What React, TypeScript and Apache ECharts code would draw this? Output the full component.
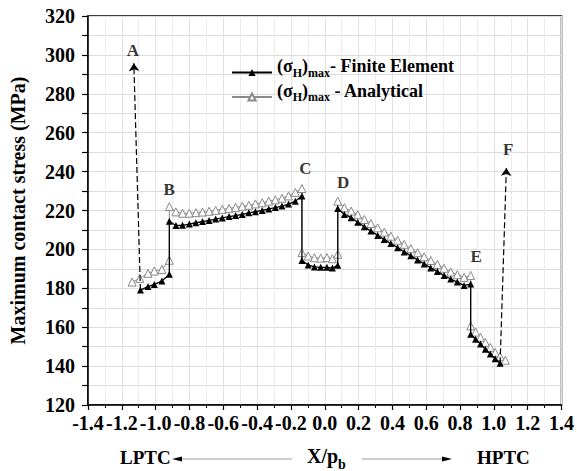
import React, { useEffect, useRef } from 'react';
import * as echarts from 'echarts';

// Finite Element series (x = X/p_b, y = MPa)
const feX = [
  -1.090, -1.045, -1.008, -0.963, -0.919,
  -0.919, -0.880, -0.841, -0.801, -0.762, -0.723, -0.684, -0.645, -0.606, -0.566, -0.527,
  -0.488, -0.449, -0.410, -0.370, -0.331, -0.292, -0.253, -0.214, -0.174, -0.135,
  -0.135, -0.098, -0.061, -0.024, 0.013, 0.045, 0.077,
  0.077, 0.116, 0.156, 0.195, 0.234, 0.273, 0.313, 0.352, 0.391, 0.431, 0.470,
  0.509, 0.549, 0.588, 0.627, 0.666, 0.706, 0.745, 0.784, 0.824, 0.863,
  0.863, 0.892, 0.921, 0.950, 0.979, 1.008, 1.037,
];
const feY = [
  179.1, 180.9, 182.0, 183.7, 187.2,
  214.5, 212.3, 212.4, 213.0, 213.7, 214.3, 214.9, 215.6, 216.2, 216.9, 217.4,
  218.0, 218.8, 219.4, 220.0, 220.8, 221.5, 222.3, 223.3, 224.8, 227.5,
  194.3, 192.0, 191.0, 190.8, 190.8, 190.4, 191.8,
  221.0, 218.0, 216.3, 214.0, 211.6, 209.4, 207.2, 205.1, 203.0, 200.9, 198.7,
  196.7, 194.6, 192.5, 190.5, 188.6, 186.6, 184.8, 183.2, 181.5, 182.2,
  156.4, 153.8, 151.3, 148.7, 146.2, 143.8, 141.5,
];

// Analytical series
const anX = [
  -1.139, -1.094, -1.045, -1.008, -0.963, -0.919,
  -0.919, -0.880, -0.841, -0.801, -0.762, -0.723, -0.684, -0.645, -0.606, -0.566, -0.527,
  -0.488, -0.449, -0.410, -0.370, -0.331, -0.292, -0.253, -0.214, -0.174, -0.135,
  -0.135, -0.098, -0.061, -0.024, 0.013, 0.045, 0.077,
  0.077, 0.116, 0.156, 0.195, 0.234, 0.273, 0.313, 0.352, 0.391, 0.431, 0.470,
  0.509, 0.549, 0.588, 0.627, 0.666, 0.706, 0.745, 0.784, 0.824, 0.863,
  0.863, 0.892, 0.921, 0.950, 0.979, 1.008, 1.037, 1.068,
];
const anY = [
  183.2, 185.1, 187.7, 188.9, 189.7, 194.4,
  222.0, 219.3, 218.6, 218.6, 218.9, 219.2, 219.6, 220.1, 220.6, 221.1, 221.6,
  222.2, 222.7, 223.4, 224.0, 224.8, 225.5, 226.3, 227.5, 229.3, 231.3,
  198.3, 196.6, 195.7, 195.5, 195.8, 195.2, 197.5,
  224.8, 221.4, 219.7, 217.8, 215.4, 213.3, 211.1, 208.9, 206.8, 204.7, 202.6,
  200.4, 198.3, 196.2, 194.3, 192.3, 190.3, 188.4, 187.0, 185.6, 186.6,
  160.7, 157.5, 154.8, 152.2, 149.6, 147.0, 145.0, 143.0,
];

// Peak arrows (start -> tip)
const arrowA = [[-1.090, 179.1], [-1.129, 295.7]];
const arrowF = [[1.037, 141.5], [1.074, 241.9]];

// Point letters
const pointNames = ['A', 'B', 'C', 'D', 'E', 'F'];
const pointX = [-1.135, -0.920, -0.115, 0.109, 0.895, 1.085];
const pointY = [302.2, 230.8, 241.5, 234.2, 196.2, 251.3];

const seriesNames = ['FE', 'AN'];

const SERIF = '"Liberation Serif", "Times New Roman", serif';

export default function App() {
  const ref = useRef<HTMLDivElement>(null);
  useEffect(() => {
    const chart = echarts.init(ref.current!, null, { renderer: 'svg' });
    const feData = feX.map((x, i) => [x, feY[i]]);
    const anData = anX.map((x, i) => [x, anY[i]]);
    const labelData = pointNames.map((n, i) => ({ name: n, value: [pointX[i], pointY[i]] }));
    const arrowLine = (a: number[][]) => [{ coord: a[0] }, { coord: a[1] }];

    const richText = {
      p: { fontFamily: SERIF, fontWeight: 'bold', fontSize: 18, color: '#000', lineHeight: 21, verticalAlign: 'top' },
      s: { fontFamily: SERIF, fontWeight: 'bold', fontSize: 12, color: '#000', lineHeight: 31 },
    };

    chart.setOption({
      animation: false,
      backgroundColor: '#fff',
      grid: {
        left: 87, right: 11, top: 16, bottom: 66,
        show: true, borderColor: '#000', borderWidth: 1.5, backgroundColor: 'transparent',
      },
      legend: {
        data: seriesNames,
        orient: 'vertical',
        left: 226,
        top: 52,
        itemWidth: 40,
        itemHeight: 9,
        itemGap: 3,
        formatter: (name: string) =>
          name === 'FE'
            ? '{p|(σ}{s|H}{p|)}{s|max}{p|- Finite Element}'
            : '{p|(σ}{s|H}{p|)}{s|max}{p| - Analytical}',
        textStyle: { rich: richText },
      },
      xAxis: {
        type: 'value',
        min: -1.4,
        max: 1.4,
        interval: 0.2,
        axisLine: { show: true, onZero: false, lineStyle: { color: '#000', width: 1.5 } },
        axisTick: { show: true, inside: false, length: 5, lineStyle: { color: '#000', width: 1.2 } },
        minorTick: { show: true, splitNumber: 2, length: 3, lineStyle: { color: '#000' } },
        axisLabel: {
          fontFamily: SERIF, fontWeight: 'bold', fontSize: 20, color: '#000', margin: 8,
          formatter: (v: number) => v.toFixed(1),
        },
        splitLine: { show: true, lineStyle: { color: '#e2e2e2', width: 1 } },
        minorSplitLine: { show: true, lineStyle: { color: '#ececec', width: 1 } },
      },
      yAxis: {
        type: 'value',
        min: 120,
        max: 320,
        interval: 10,
        name: 'Maximum contact stress (MPa)',
        nameLocation: 'middle',
        nameRotate: 90,
        nameGap: 60,
        nameTextStyle: { fontFamily: SERIF, fontWeight: 'bold', fontSize: 20, color: '#000' },
        axisLine: { show: true, onZero: false, lineStyle: { color: '#000', width: 1.5 } },
        axisTick: { show: true, inside: false, length: 6, lineStyle: { color: '#000', width: 1.2 } },
        axisLabel: {
          fontFamily: SERIF, fontWeight: 'bold', fontSize: 20, color: '#000', margin: 13,
          formatter: (v: number) => (Math.round(v) % 20 === 0 ? String(Math.round(v)) : ''),
        },
        splitLine: { show: true, lineStyle: { color: '#dcdcdc', width: 1 } },
      },
      series: [
        {
          name: 'FE',
          type: 'line',
          data: feData,
          symbol: 'triangle',
          symbolSize: 7,
          itemStyle: { color: '#000' },
          lineStyle: { color: '#000', width: 1.3 },
          z: 3,
          markLine: {
            silent: true,
            symbol: ['none', 'arrow'],
            symbolSize: 8,
            label: { show: false },
            lineStyle: { color: '#000', width: 1.2, type: [6, 3] },
            data: [arrowLine(arrowA), arrowLine(arrowF)],
          },
        },
        {
          name: 'AN',
          type: 'line',
          data: anData,
          symbol: 'triangle',
          symbolSize: 8,
          itemStyle: { color: '#fff', borderColor: '#8a8a8a', borderWidth: 1 },
          lineStyle: { color: '#8a8a8a', width: 1 },
          z: 2,
        },
        {
          name: 'labels',
          type: 'scatter',
          data: labelData,
          symbolSize: 0,
          silent: true,
          label: {
            show: true,
            position: 'inside',
            formatter: (p: any) => p.name,
            fontFamily: SERIF,
            fontWeight: 'bold',
            fontSize: 17,
            color: '#000',
          },
          z: 5,
        },
      ],
      graphic: [
        {
          type: 'text', left: 120, top: 448,
          style: { text: 'LPTC', font: `bold 19px ${SERIF}`, fill: '#000' },
        },
        { type: 'line', shape: { x1: 180, y1: 459, x2: 292, y2: 459 }, style: { stroke: '#999', lineWidth: 1 } },
        { type: 'polygon', shape: { points: [[172, 459], [182, 456.5], [182, 461.5]] }, style: { fill: '#000' } },
        {
          type: 'text', left: 307, top: 446,
          style: {
            text: '{p|X/p}{s|b}',
            rich: {
              p: { fontFamily: SERIF, fontWeight: 'bold', fontSize: 20, fill: '#000', lineHeight: 24, verticalAlign: 'top' },
              s: { fontFamily: SERIF, fontWeight: 'bold', fontSize: 14, fill: '#000', lineHeight: 36 },
            },
          },
        },
        { type: 'line', shape: { x1: 362, y1: 459, x2: 444, y2: 459 }, style: { stroke: '#999', lineWidth: 1 } },
        { type: 'polygon', shape: { points: [[452, 459], [442, 456.5], [442, 461.5]] }, style: { fill: '#000' } },
        {
          type: 'text', left: 477, top: 448,
          style: { text: 'HPTC', font: `bold 19px ${SERIF}`, fill: '#000' },
        },
      ],
    });
    return () => chart.dispose();
  }, []);
  return <div ref={ref} style={{ position: 'fixed', left: 0, top: 0, width: 577, height: 471 }} />;
}
